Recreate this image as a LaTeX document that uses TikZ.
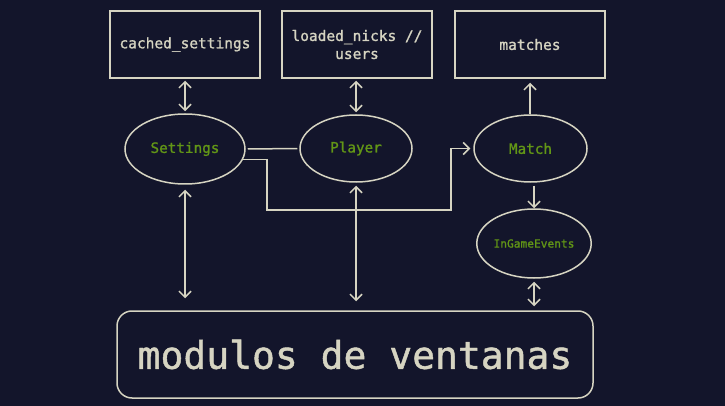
\documentclass[tikz,border=0pt]{standalone}
\usepackage{fontspec}
\newfontfamily\codefont[FakeBold=1.2]{DejaVu Sans Mono}
\usetikzlibrary{arrows.meta, shapes.geometric}
\definecolor{bgnavy}{RGB}{19,21,43}
\definecolor{chalk}{RGB}{214,212,194}
\definecolor{leaf}{RGB}{98,150,22}

\begin{document}
\begin{tikzpicture}[x=1pt, y=-1pt, >={Straight Barb[length=6pt, width=12pt]}, line width=1.5pt]
                \tikzset{store/.style={draw=chalk, rectangle, minimum width=150pt, minimum height=67pt, inner sep=0pt, align=center, text=chalk, font=\codefont\fontsize{14.5}{18}\selectfont}}
                \tikzset{module/.style={draw=chalk, ellipse, inner sep=0pt, text=leaf, font=\codefont\fontsize{14.3}{16}\selectfont}}
                \tikzset{link/.style={draw=chalk, line width=1.5pt}}
                \fill[bgnavy] (0,0) rectangle (725,406);
                \useasboundingbox (0,0) rectangle (725,406);
                % almacenes
                \node[store] (cs) at (185, 44.5) {cached\_settings};
                \node[store] (ln) at (357, 44.5) {loaded\_nicks //\\users};
                \node[store] (mt) at (530, 44.5) {matches};
                % modulos
                \node[module, minimum width=120pt, minimum height=70pt] (set) at (185, 149) {Settings};
                \node[module, minimum width=112pt, minimum height=67pt] (ply) at (356, 148.5) {Player};
                \node[module, minimum width=113pt, minimum height=67pt] (mat) at (530.5, 148.5) {Match};
                \node[module, minimum width=108pt, minimum height=69pt, font=\codefont\fontsize{11.2}{13}\selectfont] (ige) at (534, 243.5) {InGameEvents};
                \node[draw=chalk, rounded corners=15pt, minimum width=476pt, minimum height=87pt, text=chalk, font=\codefont\fontsize{38}{40}\selectfont] (win) at (355, 354.5) {modulos de ventanas};
                % conexiones
                \draw[link, <->, shorten <=2pt, shorten >=2pt] (cs) -- (set);
                \draw[link, <->, shorten <=2pt, shorten >=2pt] (ln.south -| ply) -- (ply);
                \draw[link, ->, shorten >=4pt] (mat.north -| mt) -- (mt);
                \draw[link, ->, shorten <=3pt] (mat.south -| ige) -- (ige);
                \draw[link, <->, shorten <=3pt, shorten >=4pt] (ige) -- (win.north -| ige);
                \draw[link, <->, shorten <=5pt, shorten >=12pt] (set) -- (win.north -| set);
                \draw[link, <->, shorten <=3pt, shorten >=9pt] (ply) -- (win.north -| ply);
                \draw[link, shorten <=2pt, shorten >=2pt] (set.east) -- (ply.west);
                \draw[link, ->, shorten >=3pt] (set.-10) -| (267, 210) -- (451, 210) |- (mat.west);
            \end{tikzpicture}
\end{document}
